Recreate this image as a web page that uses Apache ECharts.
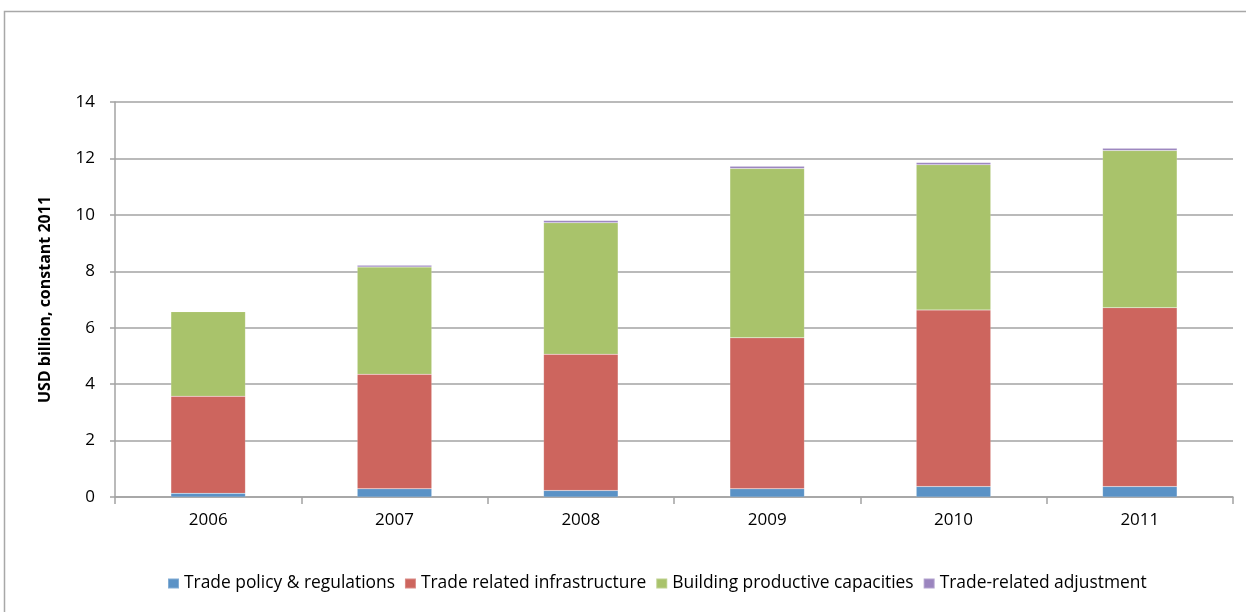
<!DOCTYPE html>
<html>
<head>
<meta charset="utf-8">
<style>
  html, body { margin: 0; padding: 0; background: #fff; }
  #chart { width: 1246px; height: 612px; }
</style>
<script src="https://cdn.jsdelivr.net/npm/echarts@6/dist/echarts.min.js"></script>
</head>
<body>
<div id="chart"></div>
<script>
// Aid for trade by category, USD billion (constant 2011)
const years = ['2006', '2007', '2008', '2009', '2010', '2011'];
const tradePolicy = [0.13, 0.29, 0.23, 0.29, 0.37, 0.37];
const tradeInfra = [3.44, 4.06, 4.83, 5.35, 6.26, 6.34];
const productiveCap = [3.00, 3.80, 4.66, 6.00, 5.15, 5.57];
const tradeAdjust = [0.01, 0.06, 0.08, 0.08, 0.08, 0.08];

const seriesNames = [
  'Trade policy & regulations',
  'Trade related infrastructure',
  'Building productive capacities',
  'Trade-related adjustment'
];
const seriesValues = [tradePolicy, tradeInfra, productiveCap, tradeAdjust];
const seriesColors = ['#5a92c6', '#cd655e', '#a9c36b', '#9b85bf'];

const fontFamily = '"Open Sans", "Noto Sans", sans-serif';
const gridColor = '#a3a3a3';

const chart = echarts.init(document.getElementById('chart'), null, { renderer: 'canvas' });

chart.setOption({
  animation: false,
  backgroundColor: '#ffffff',
  graphic: [{
    type: 'rect',
    shape: { x: 4.5, y: 11.5, width: 1400, height: 800 },
    style: { fill: 'none', stroke: '#a8a8a8', lineWidth: 1.5 },
    silent: true
  }],
  grid: { left: 115, right: 13, top: 102, bottom: 115, containLabel: false },
  legend: {
    top: 570,
    left: 162,
    itemWidth: 11,
    itemHeight: 10,
    itemGap: 9,
    icon: 'rect',
    textStyle: { fontFamily: fontFamily, fontSize: 17.4, color: '#000' },
    data: seriesNames
  },
  xAxis: {
    type: 'category',
    data: years,
    axisLine: { show: true, lineStyle: { color: gridColor, width: 1.5 } },
    axisTick: { show: true, alignWithLabel: false, length: 7, lineStyle: { color: gridColor, width: 1.5 } },
    axisLabel: { fontFamily: fontFamily, fontSize: 17, color: '#000', margin: 15 }
  },
  yAxis: {
    type: 'value',
    min: 0,
    max: 14,
    interval: 2,
    name: 'USD billion, constant 2011',
    nameLocation: 'middle',
    nameGap: 62,
    nameRotate: 90,
    nameTextStyle: { fontFamily: fontFamily, fontSize: 16, fontWeight: 'bold', color: '#000' },
    axisLine: { show: true, lineStyle: { color: gridColor, width: 1.5 } },
    axisTick: { show: true, length: 5, lineStyle: { color: gridColor, width: 1.5 } },
    axisLabel: { fontFamily: fontFamily, fontSize: 17, color: '#000', margin: 20 },
    splitLine: { show: true, lineStyle: { color: gridColor, width: 1.5 } }
  },
  series: seriesNames.map((name, i) => ({
    name: name,
    type: 'bar',
    stack: 'total',
    barWidth: '40%',
    data: seriesValues[i],
    itemStyle: {
      color: seriesColors[i],
      borderColor: 'rgba(255,255,255,0.25)',
      borderWidth: 0.5
    }
  }))
});
</script>
</body>
</html>
